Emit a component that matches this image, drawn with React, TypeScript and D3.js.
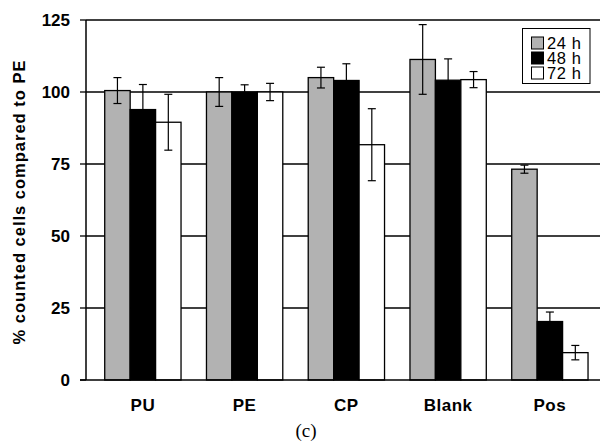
import React, { useEffect, useRef } from 'react'
import * as d3 from 'd3'

// Chart data
const categories = ['PU', 'PE', 'CP', 'Blank', 'Pos']
const seriesNames = ['24 h', '48 h', '72 h']
const seriesColors = ['#b2b2b2', '#000000', '#ffffff']
const values24 = [100.5, 100, 105, 111.3, 73.2]
const values48 = [93.9, 100, 104, 104.1, 20.3]
const values72 = [89.5, 100, 81.7, 104.3, 9.5]
const errors24 = [4.5, 5, 3.6, 12.1, 1.4]
const errors48 = [8.7, 2.5, 5.8, 7.4, 3.3]
const errors72 = [9.7, 3, 12.5, 2.8, 2.5]
const yTicks = [0, 25, 50, 75, 100, 125]

const FONT = 'Arial, "Liberation Sans", sans-serif'

export default function App() {
  const svgRef = useRef<SVGSVGElement>(null)

  useEffect(() => {
    const svg = d3.select(svgRef.current)
    svg.selectAll('*').remove()

    const axisX = 86
    const plotRight = 600
    const top = 20
    const bottom = 380

    const x = d3.scaleBand().domain(categories).range([92, 600.75]).paddingInner(0).paddingOuter(0)
    const x1 = d3.scaleBand().domain(seriesNames).range([0, x.bandwidth() * 0.75])
    const groupOffset = x.bandwidth() * 0.125
    const y = d3.scaleLinear().domain([0, 125]).range([bottom, top])

    const allValues = [values24, values48, values72]
    const allErrors = [errors24, errors48, errors72]

    // Gridlines
    svg.append('g').selectAll('line')
      .data(yTicks.filter(t => t > 0))
      .enter().append('line')
      .attr('x1', axisX).attr('x2', plotRight)
      .attr('y1', d => y(d)).attr('y2', d => y(d))
      .attr('stroke', '#000').attr('stroke-width', 1.3)

    // Bars
    seriesNames.forEach((s, si) => {
      svg.append('g').selectAll('rect')
        .data(categories)
        .enter().append('rect')
        .attr('x', d => x(d)! + groupOffset + x1(s)!)
        .attr('width', x1.bandwidth())
        .attr('y', (d, i) => y(allValues[si][i]))
        .attr('height', (d, i) => bottom - y(allValues[si][i]))
        .attr('fill', seriesColors[si])
        .attr('stroke', '#000')
        .attr('stroke-width', 1.3)
    })

    // Error bars
    seriesNames.forEach((s, si) => {
      const g = svg.append('g').attr('stroke', '#000').attr('stroke-width', 1.2)
      categories.forEach((c, i) => {
        const cx = x(c)! + groupOffset + x1(s)! + x1.bandwidth() / 2
        const v = allValues[si][i]
        const e = allErrors[si][i]
        const yHi = y(v + e)
        const yLo = y(v - e)
        g.append('line').attr('x1', cx).attr('x2', cx).attr('y1', yHi).attr('y2', yLo)
        g.append('line').attr('x1', cx - 4).attr('x2', cx + 4).attr('y1', yHi).attr('y2', yHi)
        g.append('line').attr('x1', cx - 4).attr('x2', cx + 4).attr('y1', yLo).attr('y2', yLo)
      })
    })

    // Axes lines
    svg.append('line')
      .attr('x1', axisX).attr('x2', axisX).attr('y1', top).attr('y2', bottom)
      .attr('stroke', '#000').attr('stroke-width', 1.5)
    svg.append('line')
      .attr('x1', 80).attr('x2', plotRight).attr('y1', bottom).attr('y2', bottom)
      .attr('stroke', '#000').attr('stroke-width', 1.5)

    // Y ticks and labels
    const yAxis = svg.append('g')
    yAxis.selectAll('line')
      .data(yTicks)
      .enter().append('line')
      .attr('x1', 80).attr('x2', axisX)
      .attr('y1', d => y(d)).attr('y2', d => y(d))
      .attr('stroke', '#000').attr('stroke-width', 1.3)
    yAxis.selectAll('text')
      .data(yTicks)
      .enter().append('text')
      .attr('x', 70).attr('y', d => y(d))
      .attr('dy', '0.36em')
      .attr('text-anchor', 'end')
      .attr('font-family', FONT).attr('font-weight', 'bold').attr('font-size', 17)
      .text(d => d)

    // X labels
    svg.append('g').selectAll('text')
      .data(categories)
      .enter().append('text')
      .attr('x', d => x(d)! + x.bandwidth() / 2)
      .attr('y', 411)
      .attr('text-anchor', 'middle')
      .attr('font-family', FONT).attr('font-weight', 'bold').attr('font-size', 17)
      .attr('letter-spacing', 0.5)
      .text(d => d)

    // Y axis title
    svg.append('text')
      .attr('transform', 'translate(25,' + ((top + bottom) / 2 + 2) + ') rotate(-90)')
      .attr('text-anchor', 'middle')
      .attr('font-family', FONT).attr('font-weight', 'bold').attr('font-size', 16.5)
      .attr('letter-spacing', 1)
      .text('% counted cells compared to PE')

    // Caption
    svg.append('text')
      .attr('x', 306).attr('y', 437)
      .attr('text-anchor', 'middle')
      .attr('font-family', '"Liberation Serif", "Times New Roman", serif').attr('font-size', 19)
      .text('(c)')

    // Legend
    const legend = svg.append('g')
    legend.append('rect')
      .attr('x', 522.5).attr('y', 28.5).attr('width', 67.5).attr('height', 55)
      .attr('fill', '#fff').attr('stroke', '#000').attr('stroke-width', 1)
    seriesNames.forEach((s, si) => {
      const cy = 43 + si * 15
      legend.append('rect')
        .attr('x', 531.5).attr('y', cy - 6).attr('width', 12).attr('height', 12)
        .attr('fill', seriesColors[si]).attr('stroke', '#000').attr('stroke-width', 1)
      legend.append('text')
        .attr('x', 547).attr('y', cy).attr('dy', '0.36em')
        .attr('font-family', FONT).attr('font-size', 16.5)
        .attr('letter-spacing', 0.6)
        .text(s)
    })
  }, [])

  return (
    <svg ref={svgRef} width={600} height={444}
      style={{ position: 'absolute', left: 0, top: 0, background: '#fff' }} />
  )
}
